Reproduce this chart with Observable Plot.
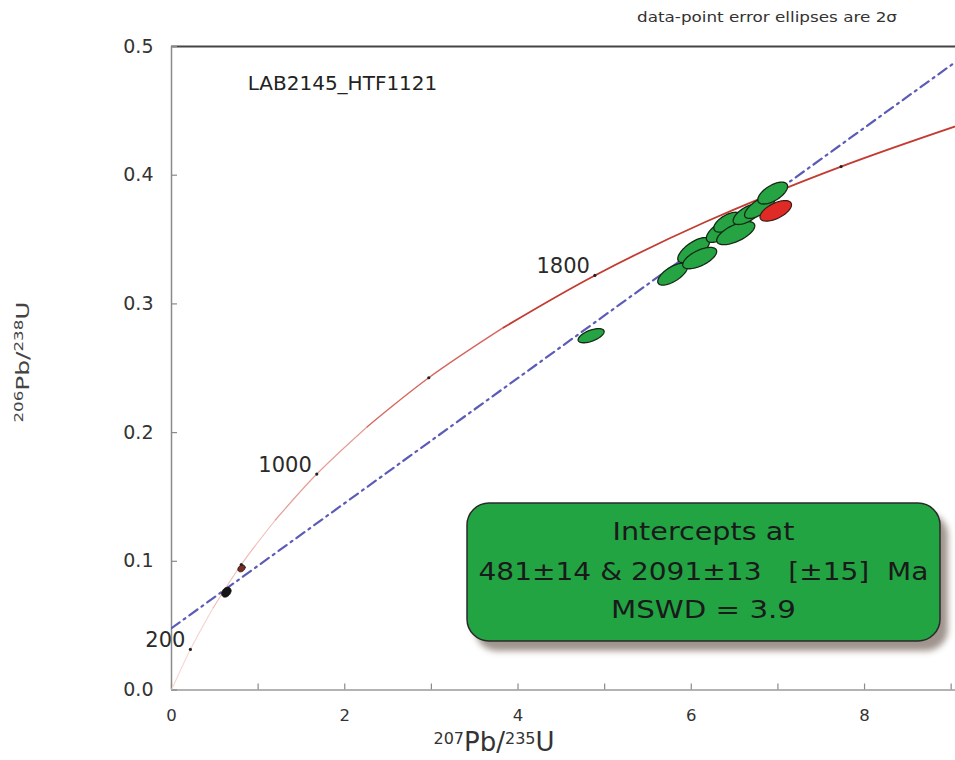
<!DOCTYPE html>
<html>
<head>
<meta charset="utf-8">
<script src="https://cdn.jsdelivr.net/npm/d3@7"></script>
<script src="https://cdn.jsdelivr.net/npm/@observablehq/plot@0.6"></script>
<style>
  body { margin: 0; background: #fff; }
  #chart { position: relative; width: 955px; height: 760px; }
</style>
</head>
<body>
<div id="chart"></div>
<script>
// ---------- data ----------
// Concordia curve (age in Ma, 207Pb/235U, 206Pb/238U)
const concAge = [0, 200, 400, 600, 800, 1000, 1200, 1400, 1600, 1800, 2000, 2200, 2400];
const concX   = [0, 0.218, 0.483, 0.806, 1.199, 1.677, 2.260, 2.970, 3.834, 4.887, 6.168, 7.729, 9.629];
const concY   = [0, 0.0315, 0.0640, 0.0975, 0.1321, 0.1678, 0.2046, 0.2426, 0.2817, 0.3221, 0.3638, 0.4067, 0.4511];
const markAges  = [200, 600, 1000, 1400, 1800, 2200];
const labelAges = [200, 1000, 1800];

// Discordia (regression line)
const discX = [0, 9.05];
const discY = [0.048, 0.488];

// Data-point error ellipses: centre, 2-sigma half-widths and error correlation
const ellKind = ["dark", "dark", "green", "green", "green", "green", "green", "green", "green", "green", "green", "green", "red"];
const ellX    = [0.633, 0.808, 4.844, 5.785, 6.028, 6.097, 6.339, 6.420, 6.513, 6.651, 6.790, 6.940, 6.975];
const ellY    = [0.0760, 0.0945, 0.2753, 0.3231, 0.3418, 0.3356, 0.3565, 0.3635, 0.3550, 0.3698, 0.3752, 0.3861, 0.3723];
const ellSX   = [0.054, 0.042, 0.150, 0.172, 0.184, 0.196, 0.165, 0.160, 0.220, 0.168, 0.175, 0.172, 0.182];
const ellSY   = [0.00384, 0.00268, 0.0055, 0.0085, 0.0097, 0.0083, 0.0087, 0.0077, 0.0090, 0.0081, 0.0088, 0.0085, 0.0080];
const ellRho  = [0.30, 0.28, 0.58, 0.66, 0.69, 0.62, 0.62, 0.59, 0.63, 0.64, 0.69, 0.61, 0.59];

// Axes
const xTickLabels = [0, 2, 4, 6, 8];
const xTicks = [0, 1, 2, 3, 4, 5, 6, 7, 8, 9];
const yTicks = [0, 0.1, 0.2, 0.3, 0.4, 0.5];

// Texts
const sampleName = "LAB2145_HTF1121";
const noteText = "data-point error ellipses are 2σ";
const interceptLines = ["Intercepts at", "481±14 & 2091±13   [±15]  Ma", "MSWD = 3.9"];

// ---------- derived tables ----------
const conc = concAge.map((t, i) => ({t, x: concX[i], y: concY[i]}));
const disc = discX.map((x, i) => ({x, y: discY[i]}));
const ellPts = [];
ellX.forEach((cx, i) => {
  const n = 72;
  const r = ellRho[i];
  for (let k = 0; k < n; k++) {
    const a = 2 * Math.PI * k / n;
    ellPts.push({
      id: i, kind: ellKind[i],
      x: cx + ellSX[i] * Math.cos(a),
      y: ellY[i] + ellSY[i] * (r * Math.cos(a) + Math.sqrt(1 - r * r) * Math.sin(a))
    });
  }
});

// ---------- layout ----------
const W = 955, H = 760, mT = 46, mB = 70.5, mL = 171, mR = 0;
const frameW = W - mL - mR, frameH = H - mT - mB;
const FONT = "'DejaVu Sans', 'Liberation Sans', sans-serif";

// concordia drawn in pieces, pale near the origin and red toward older ages
const concPieces = [
  {from: 0, to: 400, stroke: "#f6d6d3", w: 1.1},
  {from: 400, to: 800, stroke: "#f0bcb7", w: 1.1},
  {from: 800, to: 1200, stroke: "#e59d97", w: 1.2},
  {from: 1200, to: 1600, stroke: "#d5665e", w: 1.4},
  {from: 1600, to: 2400, stroke: "#c33b32", w: 1.8}
];

const plot = Plot.plot({
  width: W, height: H,
  marginTop: mT, marginBottom: mB, marginLeft: mL, marginRight: mR,
  x: {domain: [0, 9.05], label: null},
  y: {domain: [0, 0.5], label: null},
  style: {fontFamily: FONT, color: "#333", background: "#fff", overflow: "visible"},
  marks: [
    // frame pieces
    Plot.ruleY([0.5], {stroke: "#444", strokeWidth: 2}),
    Plot.ruleX([0], {stroke: "#8a8a8a", strokeWidth: 1.5}),
    Plot.ruleY([0], {stroke: "#9a9a9a", strokeWidth: 1.5}),
    // inward ticks
    Plot.tickX(xTicks, {x: d => d, insetTop: frameH - 6, stroke: "#8a8a8a", strokeWidth: 1.2}),
    Plot.tickY(yTicks, {y: d => d, insetRight: frameW - 6, stroke: "#8a8a8a", strokeWidth: 1.2}),
    // tick labels
    Plot.axisX({ticks: xTickLabels, tickSize: 0, tickPadding: 19, fontSize: 16.5, label: null, tickFormat: d3.format("d")}),
    Plot.axisY({ticks: yTicks, tickSize: 0, tickPadding: 18, fontSize: 19, label: null, tickFormat: d3.format(".1f")}),
    // concordia
    ...concPieces.map(p => Plot.line(conc.filter(d => d.t >= p.from && d.t <= p.to),
      {x: "x", y: "y", stroke: p.stroke, strokeWidth: p.w, curve: "catmull-rom", clip: true})),
    // discordia
    Plot.line(disc, {x: "x", y: "y", stroke: "#5c5cb8", strokeWidth: 2.2, strokeDasharray: "10,5,2,5", clip: true}),
    // error ellipses
    Plot.line(ellPts.filter(d => d.kind === "green"), {x: "x", y: "y", z: "id", fill: "#26a443", stroke: "#142a16", strokeWidth: 1.3, curve: "linear-closed"}),
    Plot.line(ellPts.filter(d => d.kind === "red"), {x: "x", y: "y", z: "id", fill: "#e02a25", stroke: "#3a1a18", strokeWidth: 1.2, curve: "linear-closed"}),
    Plot.line(ellPts.filter(d => d.kind === "dark" && d.id === 1), {x: "x", y: "y", z: "id", fill: "#7a2c22", stroke: "#2a1a18", strokeWidth: 1, curve: "linear-closed"}),
    Plot.line(ellPts.filter(d => d.kind === "dark" && d.id === 0), {x: "x", y: "y", z: "id", fill: "#151515", stroke: "#111", strokeWidth: 1, curve: "linear-closed"}),
    // concordia age marks and labels
    Plot.dot(conc.filter(d => markAges.includes(d.t)), {x: "x", y: "y", r: 1.6, fill: "#222"}),
    Plot.text(conc.filter(d => labelAges.includes(d.t)), {x: "x", y: "y", text: d => String(d.t), textAnchor: "end", lineAnchor: "middle", dx: -5, dy: -9, fontSize: 21, fill: "#2a2a2a"}),
    // sample name
    Plot.text([sampleName], {frameAnchor: "top-left", text: d => d, dx: 171, dy: 37, textAnchor: "middle", lineAnchor: "middle", fontSize: 20, fill: "#222"})
  ]
});

document.getElementById("chart").appendChild(plot);

// ---------- annotations ----------
const svg = d3.select(plot);
const defs = svg.append("defs");
defs.append("filter").attr("id", "shadowBlur").attr("x", "-10%").attr("y", "-10%").attr("width", "120%").attr("height", "130%")
  .append("feGaussianBlur").attr("stdDeviation", 3);

// top note
svg.append("text")
  .attr("x", 767).attr("y", 22)
  .attr("text-anchor", "middle")
  .attr("font-size", 14).attr("fill", "#333")
  .attr("textLength", 260).attr("lengthAdjust", "spacingAndGlyphs")
  .text(noteText);

// intercept box
const box = {x: 467, y: 503, w: 473, h: 138, rx: 22};
const g = svg.append("g");
g.append("rect").attr("x", box.x + 8).attr("y", box.y + 10).attr("width", box.w).attr("height", box.h)
  .attr("rx", box.rx).attr("fill", "#a0958e").attr("filter", "url(#shadowBlur)");
g.append("rect").attr("x", box.x).attr("y", box.y).attr("width", box.w).attr("height", box.h)
  .attr("rx", box.rx).attr("fill", "#22a443").attr("stroke", "#2a2a2a").attr("stroke-width", 1.5);
const lineY = [540, 580, 618];
const lineLen = [182, 450, 185];
interceptLines.forEach((s, i) => {
  g.append("text")
    .attr("x", box.x + box.w / 2).attr("y", lineY[i])
    .attr("text-anchor", "middle")
    .attr("font-size", 25).attr("fill", "#1a1a1a")
    .attr("textLength", lineLen[i]).attr("lengthAdjust", "spacingAndGlyphs")
    .style("white-space", "pre")
    .text(s);
});

// axis titles with superscripts
function isoLabel(sel, mass1, mass2, big, small, raise) {
  sel.append("tspan").attr("font-size", small).attr("dy", -raise).text(mass1);
  sel.append("tspan").attr("font-size", big).attr("dy", raise).text("Pb/");
  sel.append("tspan").attr("font-size", small).attr("dy", -raise).text(mass2);
  sel.append("tspan").attr("font-size", big).attr("dy", raise).text("U");
}
const xl = svg.append("text").attr("x", 494).attr("y", 751).attr("text-anchor", "middle").attr("fill", "#333");
isoLabel(xl, "207", "235", 26, 16, 7);

const yl = svg.append("text")
  .attr("transform", "translate(29,362) rotate(-90)")
  .attr("text-anchor", "middle").attr("fill", "#444")
  .attr("textLength", 121).attr("lengthAdjust", "spacingAndGlyphs");
isoLabel(yl, "206", "238", 18, 12, 6);
</script>
</body>
</html>
